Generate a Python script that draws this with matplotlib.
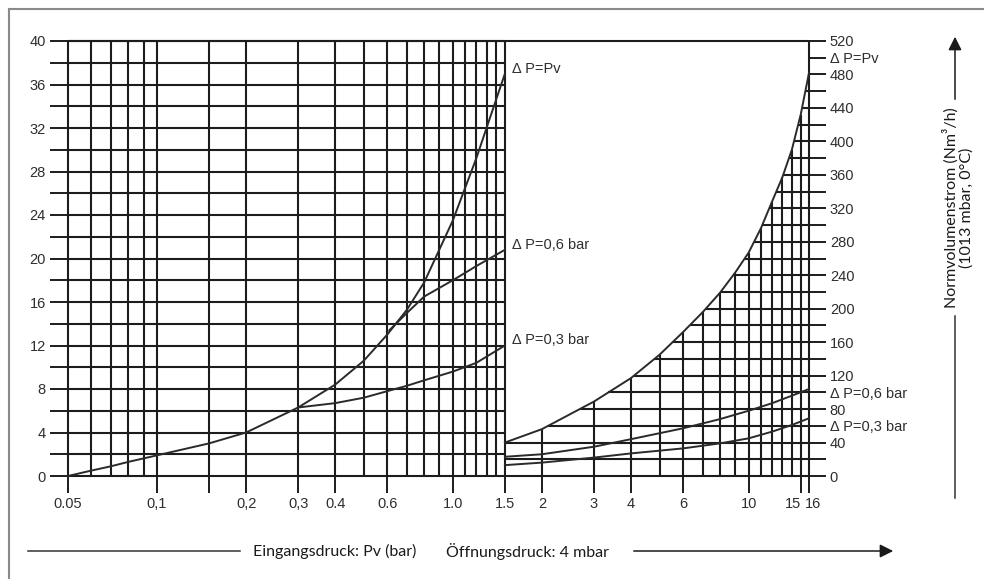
import numpy as np
import matplotlib.pyplot as plt
from matplotlib.lines import Line2D
from matplotlib.patches import FancyArrowPatch
from matplotlib.ticker import NullLocator
import matplotlib.transforms as mtransforms

# flow curves below 1.5 bar inlet pressure (left axis, Nm3/h)
pv_lo_x = [0.05, 0.06, 0.07, 0.08, 0.1, 0.15, 0.2, 0.3, 0.4, 0.5, 0.6, 0.7, 0.8, 1.0, 1.2, 1.3, 1.5]
pv_lo_y = [0, 0.5, 0.9, 1.3, 1.9, 3.0, 4.0, 6.3, 8.4, 10.6, 13.0, 15.3, 17.8, 23.5, 29.2, 32.0, 37.0]
dp06_lo_x = [0.61, 0.7, 0.8, 1.0, 1.2, 1.5]
dp06_lo_y = [13.4, 15.0, 16.5, 18.0, 19.3, 20.8]
dp03_lo_x = [0.3, 0.4, 0.5, 0.6, 0.7, 0.8, 1.0, 1.2, 1.5]
dp03_lo_y = [6.3, 6.7, 7.2, 7.8, 8.3, 8.8, 9.6, 10.4, 12.0]

# flow curves from 1.5 to 16 bar (right axis, Nm3/h)
pv_hi_x = [1.5, 2, 3, 4, 5, 6, 7, 8, 9, 10, 11, 12, 13, 14, 15, 16]
pv_hi_y = [40, 56, 89, 117, 145, 172, 196, 219, 243, 267, 296, 328, 357, 390, 432, 482]
dp06_hi_x = [1.5, 2, 3, 4, 6, 8, 10, 12, 14, 16]
dp06_hi_y = [23, 26, 35, 44, 57, 68, 78, 87, 96, 104]
dp03_hi_x = [1.5, 2, 3, 4, 6, 8, 10, 12, 14, 16]
dp03_hi_y = [13, 16, 22, 27, 33, 39, 45, 53, 61, 69]

lab_pv = 'Δ P=Pv'
lab_06 = 'Δ P=0,6 bar'
lab_03 = 'Δ P=0,3 bar'

# grid of the log paper
left_vgrid = [0.05, 0.06, 0.07, 0.08, 0.09, 0.1, 0.15, 0.2, 0.3, 0.4, 0.5, 0.6, 0.7,
              0.8, 0.9, 1.0, 1.1, 1.2, 1.3, 1.4, 1.5]
right_vgrid = [2, 3, 4, 5, 6, 7, 8, 9, 10, 11, 12, 13, 14, 15]
left_hgrid = list(range(0, 41, 2))
right_hgrid = list(range(0, 521, 20))

x_ticks = [0.05, 0.1, 0.15, 0.2, 0.3, 0.4, 0.6, 1.0, 1.5, 2, 3, 4, 6, 10, 15, 16]
x_labels = ['0.05', '0,1', '', '0,2', '0,3', '0.4', '0.6', '1.0', '1.5',
            '2', '3', '4', '6', '10', '15', '16']

W, H = 984, 579
ink = '#1c1c1c'
lblcol = '#2e2e2e'
fs = 10.5

fig = plt.figure(figsize=(W / 100, H / 100), dpi=100)
ax = fig.add_axes([68 / W, 1 - 476 / H, (809 - 68) / W, (476 - 41) / H])
ax.set_xscale('log')
ax.set_xlim(0.05, 16)
ax.set_ylim(0, 40)
ax2 = ax.twinx()
ax2.set_ylim(0, 520)
for a in (ax, ax2):
    for s in a.spines.values():
        s.set_visible(False)
    a.patch.set_visible(False)

gkw = dict(color=ink, lw=1.5, clip_on=False, zorder=1)

# left part: full grid
ax.vlines(left_vgrid, 0, 40, **gkw)
ax.hlines(left_hgrid, 0.05, 1.5, **gkw)
ax.hlines(40, 0.05, 16, **gkw)

# right part: grid only below the dP=Pv curve
logx = np.log10(pv_hi_x)
for xv in right_vgrid:
    top = np.interp(np.log10(xv), logx, pv_hi_y)
    ax2.vlines(xv, 0, top, **gkw)
ax2.vlines(16, 0, 520, **gkw)
for yv in right_hgrid:
    if yv > max(pv_hi_y):
        continue
    x0 = 10 ** np.interp(yv, pv_hi_y, logx)
    ax2.hlines(yv, x0, 16, **gkw)

ckw = dict(color='#2a2a2a', lw=1.4, zorder=3, clip_on=False)
ax.plot(pv_lo_x, pv_lo_y, **ckw)
ax.plot(dp06_lo_x, dp06_lo_y, **ckw)
ax.plot(dp03_lo_x, dp03_lo_y, **ckw)
ax2.plot(pv_hi_x, pv_hi_y, **ckw)
ax2.plot(dp06_hi_x, dp06_hi_y, **ckw)
ax2.plot(dp03_hi_x, dp03_hi_y, **ckw)

for xs, ys, lab in [(pv_lo_x, pv_lo_y, lab_pv), (dp06_lo_x, dp06_lo_y, lab_06),
                    (dp03_lo_x, dp03_lo_y, lab_03)]:
    ax.annotate(lab, xy=(xs[-1], ys[-1]), xytext=(7, 5), textcoords='offset pixels',
                ha='left', va='center', color=lblcol,
                family='Liberation Sans', fontsize=fs)

# ticks
ax.xaxis.set_minor_locator(NullLocator())
ax.set_xticks(x_ticks)
ax.set_xticklabels(x_labels)
ax.set_yticks(left_hgrid)
ax.set_yticklabels([str(v) if v % 4 == 0 else '' for v in left_hgrid])
ax.tick_params(axis='x', length=12, width=1.4, color=ink, pad=3, labelcolor=lblcol)
ax.tick_params(axis='y', length=13, width=1.4, color=ink, pad=3, labelcolor=lblcol)

special = {500: lab_pv, 100: lab_06, 60: lab_03}
ax2.set_yticks(right_hgrid)
ax2.set_yticklabels([special.get(v, str(v) if v % 40 == 0 else '') for v in right_hgrid])
ax2.tick_params(axis='y', length=12, width=1.4, color=ink, pad=3, labelcolor=lblcol)
for lbl in ax.get_xticklabels() + ax.get_yticklabels() + ax2.get_yticklabels():
    lbl.set_fontfamily('Liberation Sans')
    lbl.set_fontsize(fs)

xl = ax.get_xticklabels()
xl[-2].set_ha('right')
xl[-1].set_transform(xl[-1].get_transform() +
                     mtransforms.ScaledTranslation(4 / 100, 0, fig.dpi_scale_trans))

# frame
fkw = dict(color='#8a8a8a', lw=1.5, transform=fig.transFigure)
fig.add_artist(Line2D([9 / W, 9 / W], [0, 1 - 9 / H], **fkw))
fig.add_artist(Line2D([9 / W, 1], [1 - 9 / H, 1 - 9 / H], **fkw))

# x axis caption with arrow
yb = 1 - 551 / H
tkw = dict(family='Lato', fontsize=11.5, color='#1a1a1a', va='center')
fig.text(253 / W, yb, 'Eingangsdruck: Pv (bar)', ha='left', **tkw)
fig.text(446 / W, yb, 'Öffnungsdruck: 4 mbar', ha='left', **tkw)
fig.add_artist(Line2D([28 / W, 240 / W], [yb, yb], color='#333333', lw=1.1,
                      transform=fig.transFigure))
fig.add_artist(FancyArrowPatch((631 / W, yb), (896 / W, yb), transform=fig.transFigure,
                               arrowstyle='-|>', mutation_scale=20, color='#1a1a1a', lw=1.1))

# y axis caption with arrow
xr = 955 / W
fig.text(958 / W, 1 - 208 / H, 'Normvolumenstrom (Nm³/h)\n(1013 mbar, 0°C)', rotation=90,
         ha='center', va='center', multialignment='center', linespacing=1.0,
         family='Lato', fontsize=11.5, color='#1a1a1a')
fig.add_artist(FancyArrowPatch((xr, 1 - 102 / H), (xr, 1 - 34 / H), transform=fig.transFigure,
                               arrowstyle='-|>', mutation_scale=20, color='#1a1a1a', lw=1.1))
fig.add_artist(Line2D([xr, xr], [1 - 316 / H, 1 - 498 / H], color='#333333', lw=1.1,
                      transform=fig.transFigure))

fig.savefig('out.png', dpi=100)
